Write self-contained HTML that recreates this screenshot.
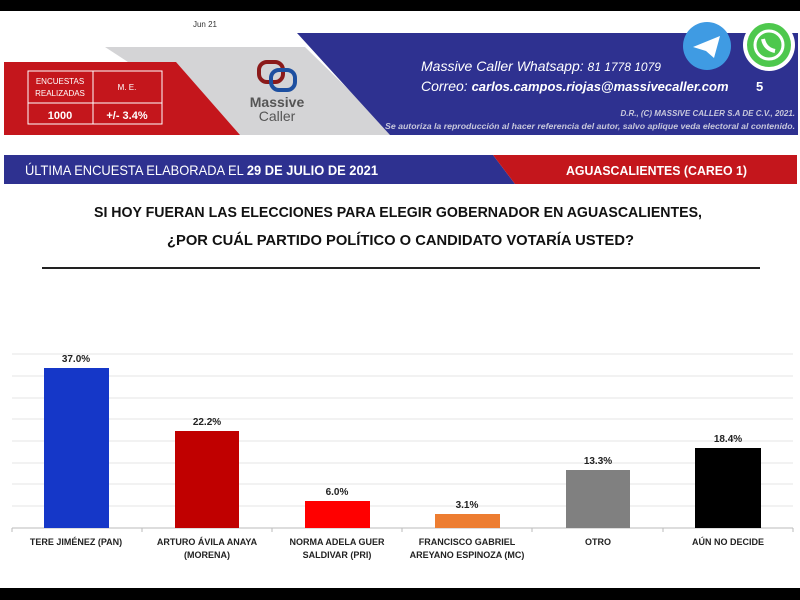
<!DOCTYPE html>
<html><head><meta charset="utf-8"><style>
html,body{margin:0;padding:0;background:#fff;}
svg{display:block;}
text{font-family:"Liberation Sans",sans-serif;}
</style></head><body>
<svg width="800" height="600" viewBox="0 0 800 600">
<rect x="0" y="0" width="800" height="600" fill="#fff"/>
<rect x="0" y="0" width="800" height="11" fill="#000"/>
<rect x="0" y="588" width="800" height="12" fill="#000"/>
<text x="205" y="27" font-size="8" fill="#333" text-anchor="middle">Jun 21</text>
<!-- gray band -->
<polygon points="105,47 305,47 395,135 240,135" fill="#d4d4d6"/>
<!-- blue band -->
<polygon points="297,33 798,33 798,135 390,135" fill="#2e3190"/>
<!-- red box -->
<polygon points="4,62 176,62 240,135 4,135" fill="#c4161c"/>
<rect x="28" y="71" width="134" height="53" fill="none" stroke="#fff" stroke-width="1"/>
<line x1="28" y1="103" x2="162" y2="103" stroke="#fff"/>
<line x1="93" y1="71" x2="93" y2="124" stroke="#fff"/>
<text x="60" y="84" font-size="8" fill="#fff" text-anchor="middle">ENCUESTAS</text>
<text x="60" y="96" font-size="8" fill="#fff" text-anchor="middle">REALIZADAS</text>
<text x="127" y="90" font-size="8" fill="#fff" text-anchor="middle">M. E.</text>
<text x="60" y="119" font-size="11" font-weight="bold" fill="#fff" text-anchor="middle">1000</text>
<text x="127" y="119" font-size="11" font-weight="bold" fill="#fff" text-anchor="middle">+/- 3.4%</text>
<!-- logo -->
<rect x="259" y="62" width="24" height="20" rx="8" fill="none" stroke="#8b1a1a" stroke-width="4"/>
<rect x="271" y="70" width="24" height="20" rx="8" fill="none" stroke="#1d4fa0" stroke-width="4"/>
<text x="277" y="107" font-size="14" font-weight="bold" fill="#555" text-anchor="middle">Massive</text>
<text x="277" y="121" font-size="14" fill="#555" text-anchor="middle">Caller</text>
<!-- contact -->
<text x="421" y="71" font-size="14" font-style="italic" fill="#fff">Massive Caller Whatsapp:  <tspan font-size="12">81 1778 1079</tspan></text>
<text x="421" y="91" font-size="14" font-style="italic" fill="#fff">Correo: <tspan font-weight="bold" font-size="13">carlos.campos.riojas@massivecaller.com</tspan></text>
<text x="756" y="91" font-size="13" font-weight="bold" fill="#fff">5</text>
<text x="795" y="116" font-size="8" font-style="italic" font-weight="bold" fill="#c8c8dc" text-anchor="end">D.R., (C) MASSIVE CALLER S.A DE C.V., 2021.</text>
<text x="795" y="129" font-size="8" font-style="italic" font-weight="bold" fill="#c8c8dc" text-anchor="end" textLength="410" lengthAdjust="spacingAndGlyphs">Se autoriza la reproducción al hacer referencia del autor, salvo aplique veda electoral al contenido.</text>
<circle cx="707" cy="46" r="24" fill="#3f9be3"/>
<polygon points="693,47 720,36 714,58 706,51" fill="#fff"/>
<circle cx="769" cy="45" r="26" fill="#fff"/>
<circle cx="769" cy="45" r="22" fill="#4ec84d"/>
<circle cx="769" cy="45" r="14" fill="none" stroke="#fff" stroke-width="3"/>
<path d="M763 39 q2 10 12 12" stroke="#fff" stroke-width="4" fill="none"/>
<!-- title bar -->
<polygon points="4,155 493,155 515,184 4,184" fill="#2e3190"/>
<polygon points="493,155 797,155 797,184 515,184" fill="#c4161c"/>
<text x="25" y="175" font-size="14" fill="#fff" textLength="353" lengthAdjust="spacingAndGlyphs">ÚLTIMA ENCUESTA ELABORADA EL  <tspan font-weight="bold">29 DE JULIO DE 2021</tspan></text>
<text x="566" y="175" font-size="13" font-weight="bold" fill="#fff" textLength="181" lengthAdjust="spacingAndGlyphs">AGUASCALIENTES (CAREO 1)</text>
<!-- question -->
<text x="94" y="217" font-size="15" font-weight="bold" fill="#111" textLength="608" lengthAdjust="spacingAndGlyphs">SI HOY FUERAN LAS ELECCIONES PARA ELEGIR GOBERNADOR EN AGUASCALIENTES,</text>
<text x="167" y="245" font-size="15" font-weight="bold" fill="#111" textLength="467" lengthAdjust="spacingAndGlyphs">¿POR CUÁL PARTIDO POLÍTICO O CANDIDATO VOTARÍA USTED?</text>
<rect x="42" y="267" width="718" height="2" fill="#222"/>
<!-- grid -->
<g stroke="#e6e6e6" stroke-width="1">
<line x1="12" y1="354" x2="793" y2="354"/><line x1="12" y1="376" x2="793" y2="376"/>
<line x1="12" y1="398" x2="793" y2="398"/><line x1="12" y1="419" x2="793" y2="419"/>
<line x1="12" y1="441" x2="793" y2="441"/><line x1="12" y1="463" x2="793" y2="463"/>
<line x1="12" y1="484" x2="793" y2="484"/><line x1="12" y1="506" x2="793" y2="506"/>
</g>
<line x1="12" y1="528" x2="793" y2="528" stroke="#bbb"/>
<g stroke="#bbb"><line x1="12" y1="528" x2="12" y2="532"/><line x1="142" y1="528" x2="142" y2="532"/><line x1="272" y1="528" x2="272" y2="532"/><line x1="402" y1="528" x2="402" y2="532"/><line x1="532" y1="528" x2="532" y2="532"/><line x1="663" y1="528" x2="663" y2="532"/><line x1="793" y1="528" x2="793" y2="532"/></g>
<rect x="44" y="368" width="65" height="160" fill="#1537c8"/>
<rect x="175" y="431" width="64" height="97" fill="#c00000"/>
<rect x="305" y="501" width="65" height="27" fill="#ff0000"/>
<rect x="435" y="514" width="65" height="14" fill="#ed7d31"/>
<rect x="566" y="470" width="64" height="58" fill="#808080"/>
<rect x="695" y="448" width="66" height="80" fill="#000"/>
<g font-size="10" font-weight="bold" fill="#222" text-anchor="middle">
<text x="76" y="362">37.0%</text><text x="207" y="425">22.2%</text><text x="337" y="495">6.0%</text>
<text x="467" y="508">3.1%</text><text x="598" y="464">13.3%</text><text x="728" y="442">18.4%</text>
</g>
<g font-size="9" font-weight="bold" fill="#222" text-anchor="middle">
<text x="76" y="545">TERE JIMÉNEZ (PAN)</text>
<text x="207" y="545">ARTURO ÁVILA ANAYA</text><text x="207" y="558">(MORENA)</text>
<text x="337" y="545">NORMA ADELA GUER</text><text x="337" y="558">SALDIVAR (PRI)</text>
<text x="467" y="545">FRANCISCO GABRIEL</text><text x="467" y="558">AREYANO ESPINOZA (MC)</text>
<text x="598" y="545">OTRO</text>
<text x="728" y="545">AÚN NO DECIDE</text>
</g>
</svg>
</body></html>
